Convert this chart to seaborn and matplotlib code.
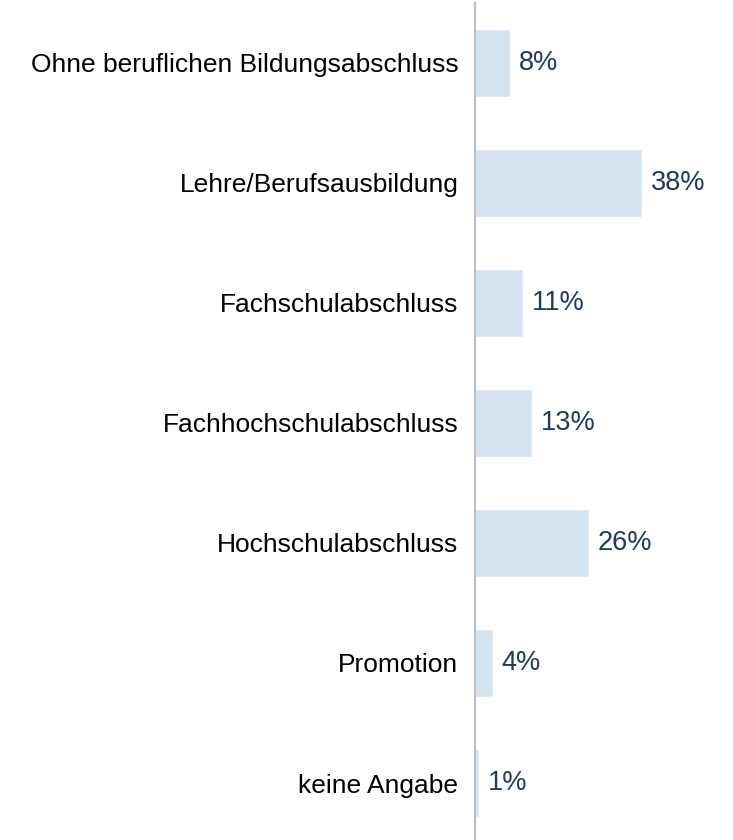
import matplotlib
matplotlib.use("Agg")
import matplotlib.pyplot as plt
import seaborn as sns
import pandas as pd

categories = ["Ohne beruflichen Bildungsabschluss", "Lehre/Berufsausbildung",
              "Fachschulabschluss", "Fachhochschulabschluss", "Hochschulabschluss",
              "Promotion", "keine Angabe"]
values = [8, 38, 11, 13, 26, 4, 1]

sns.set_theme(style="white")
plt.rcParams['font.family'] = ['Liberation Sans', 'DejaVu Sans']

df = pd.DataFrame({"cat": categories, "val": values})

fig = plt.figure(figsize=(7.33, 8.4), dpi=100)
ax = fig.add_axes([475/733, 0, 1 - 475/733, 837/840])
sns.barplot(data=df, x="val", y="cat", color="#d6e3f0", saturation=1,
            width=0.56, ax=ax, orient="h")
ax.set_xlim(0, 58.6)
ax.set_ylim(6.475, -0.5)
ax.set_xlabel("")
ax.set_ylabel("")
ax.set_xticks([])
for s in ["top", "right", "bottom"]:
    ax.spines[s].set_visible(False)
ax.spines["left"].set_color("#bfbfbf")
ax.spines["left"].set_linewidth(1.6)
ax.tick_params(axis="y", length=0, pad=12, labelsize=19, labelcolor="#000000")

for i, v in enumerate(values):
    ax.annotate(f"{v}%", xy=(v, i), xytext=(6, 0), textcoords="offset points",
                va="center", ha="left", fontsize=19.5, color="#1f3a5a")

fig.savefig("out.png", dpi=100)
